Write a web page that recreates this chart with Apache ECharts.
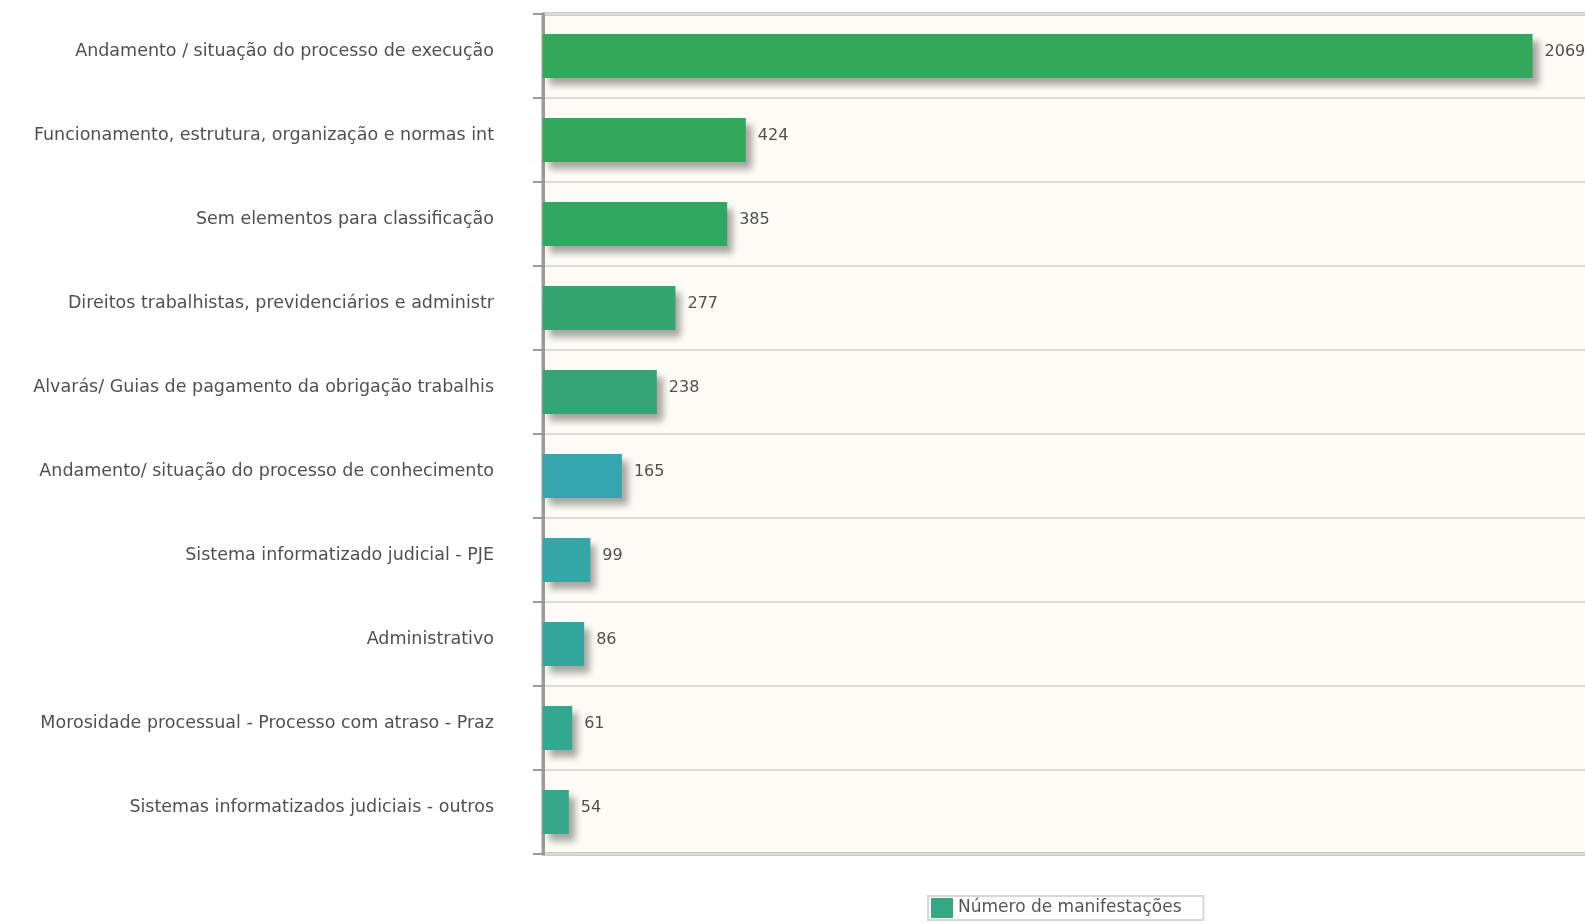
<!DOCTYPE html>
<html>
<head>
<meta charset="utf-8">
<script src="https://cdn.jsdelivr.net/npm/echarts@6/dist/echarts.min.js"></script>
<style>
html,body{margin:0;padding:0;background:#fff;overflow:hidden;}
#c{width:1585px;height:924px;}
</style>
</head>
<body>
<div id="c"></div>
<script>
const categories = [
  "Andamento / situação do processo de execução",
  "Funcionamento, estrutura, organização e normas int",
  "Sem elementos para classificação",
  "Direitos trabalhistas, previdenciários e administr",
  "Alvarás/ Guias de pagamento da obrigação trabalhis",
  "Andamento/ situação do processo de conhecimento",
  "Sistema informatizado judicial - PJE",
  "Administrativo",
  "Morosidade processual - Processo com atraso - Praz",
  "Sistemas informatizados judiciais - outros"
];
const values = [2069, 424, 385, 277, 238, 165, 99, 86, 61, 54];
const barColors = ["#31A85A", "#31A85C", "#31A862", "#33A66F", "#34A676", "#36A6AE", "#35A6A6", "#33A69B", "#33A891", "#33A889"];
const seriesName = "Número de manifestações";
const legendColor = "#33A882";

const chart = echarts.init(document.getElementById('c'), null, {renderer: 'canvas'});
const font = "DejaVu Sans";
chart.setOption({
  backgroundColor: '#ffffff',
  animation: false,
  textStyle: {fontFamily: font},
  grid: {
    left: 543, top: 14, width: 1100, height: 840,
    show: true, backgroundColor: '#FEFCF6', borderColor: '#9a9a9a', borderWidth: 3,
    containLabel: false, outerBoundsMode: 'none'
  },
  legend: {
    left: 928, top: 896,
    data: [{name: seriesName, itemStyle: {color: legendColor}}],
    itemWidth: 22, itemHeight: 20, itemGap: 5,
    icon: 'rect',
    borderColor: '#d8d8d8', borderWidth: 2, borderRadius: 0,
    padding: [2, 22, 2, 3],
    textStyle: {fontFamily: font, fontSize: 17, color: '#555', padding: [0,0,0,0]}
  },
  xAxis: {
    type: 'value', min: 0, max: 2300,
    axisLine: {show: false}, axisTick: {show: false}, axisLabel: {show: false},
    splitLine: {show: false}
  },
  yAxis: {
    type: 'category', inverse: true, data: categories,
    axisLine: {show: true, lineStyle: {color: '#9a9a9a', width: 3}},
    axisTick: {show: true, length: 10, lineStyle: {color: '#9a9a9a', width: 2}},
    axisLabel: {fontFamily: font, fontSize: 17.5, color: '#505050', margin: 49, align: 'right', verticalAlign: 'bottom', lineHeight: 9},
    splitLine: {show: true, lineStyle: {color: '#dcdcdc', width: 2}}
  },
  series: [{
    name: seriesName, type: 'bar', barWidth: 44,
    data: values.map((v, i) => ({value: v, itemStyle: {color: barColors[i]}})),
    itemStyle: {shadowColor: 'rgba(0,0,0,0.35)', shadowBlur: 7, shadowOffsetX: 6, shadowOffsetY: 7},
    label: {show: true, position: 'right', distance: 12, offset: [0, -4], fontFamily: font, fontSize: 16, color: '#505050'}
  }]
});
</script>
</body>
</html>
